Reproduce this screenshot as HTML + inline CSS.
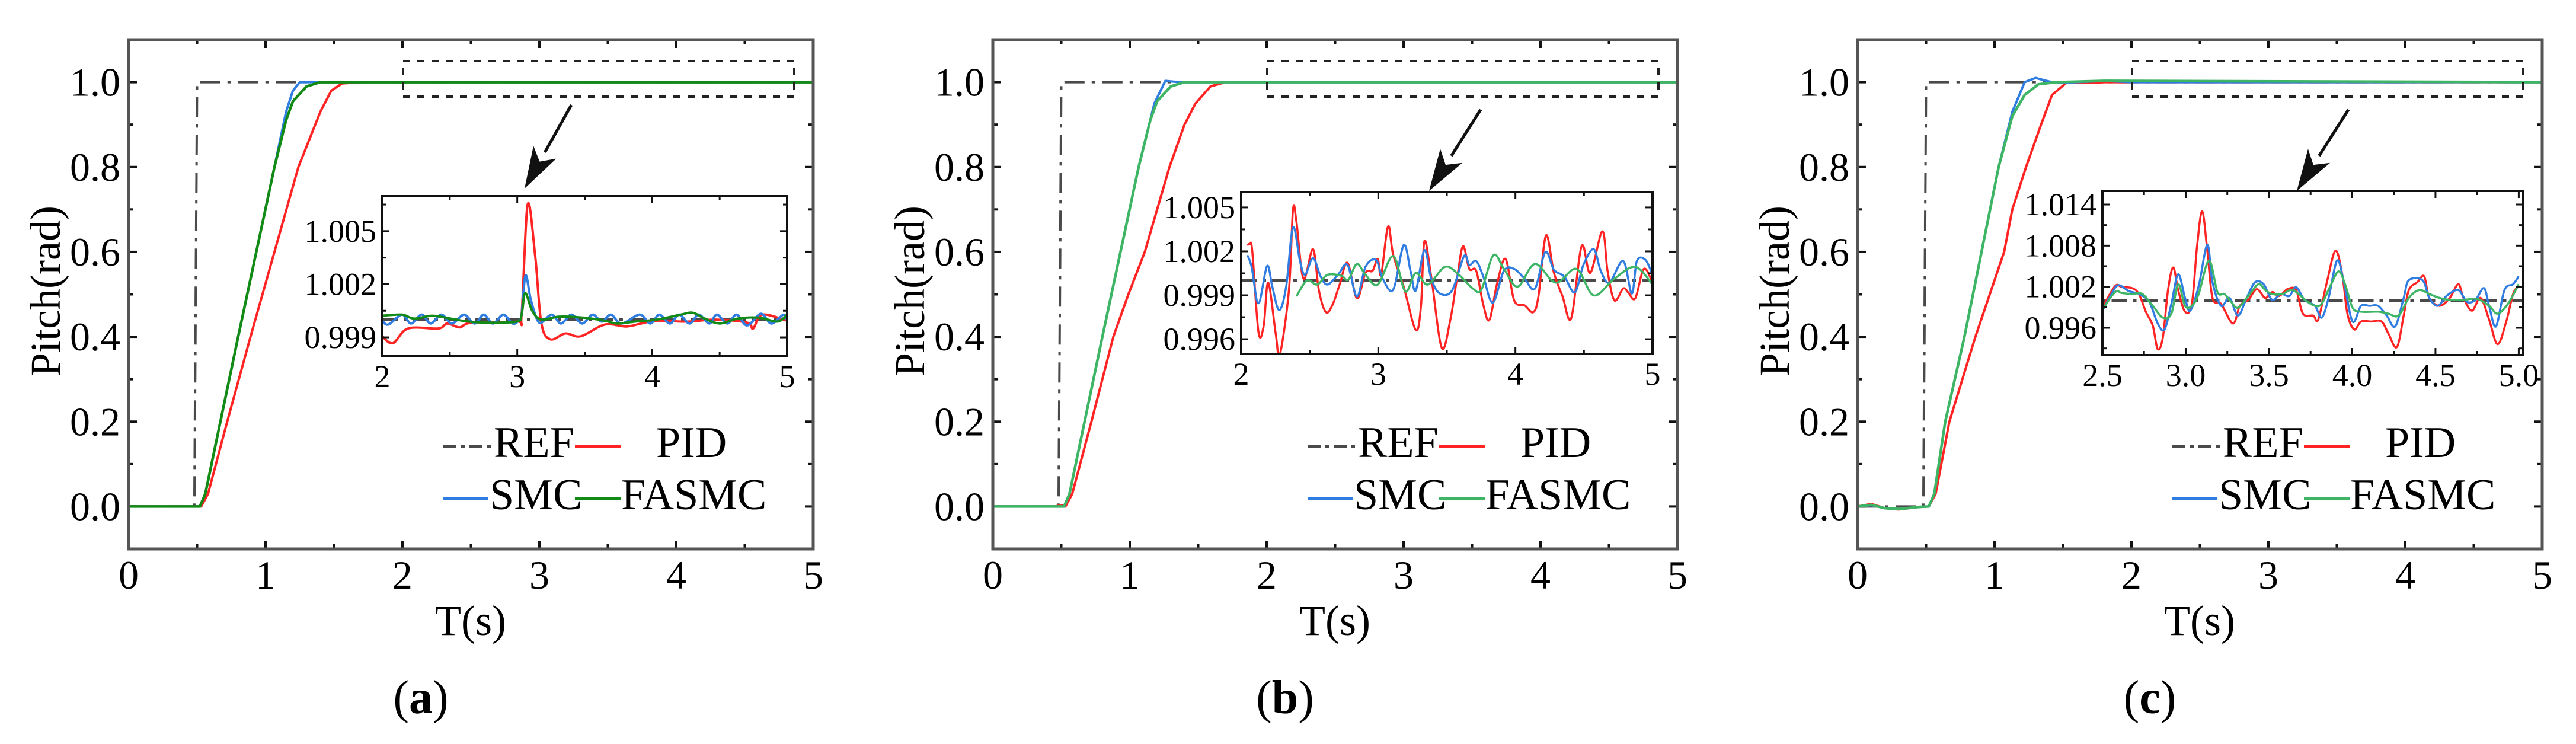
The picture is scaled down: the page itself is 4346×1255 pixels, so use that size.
<!DOCTYPE html>
<html><head><meta charset="utf-8"><style>
html,body{margin:0;padding:0;background:#fff;}
svg{display:block;font-family:"Liberation Serif","DejaVu Serif",serif;}
text{font-family:"Liberation Serif","DejaVu Serif",serif;}
</style></head><body>
<svg id="fig" width="4346" height="1255" viewBox="0 0 4346 1255" xmlns="http://www.w3.org/2000/svg" font-family="Liberation Serif, DejaVu Serif, serif"></svg>
<script>
// ===== Main chart data (t in s, pitch in rad) =====
const refT = [0, 0.48, 0.50, 5];
const refV = [0, 0, 1, 1];
const aSmcT = [0,0.52,0.56,0.67,0.80,1.065,1.15,1.2,1.25,5];
const aSmcV = [0,0,0.03,0.2,0.4,0.8,0.93,0.98,1.0,1.0];
const aFasT = [0,0.52,0.56,0.67,0.80,1.065,1.15,1.2,1.3,1.4,5];
const aFasV = [0,0,0.03,0.2,0.4,0.8,0.91,0.955,0.99,1.0,1.0];
const aPidT = [0,0.53,0.58,0.72,0.89,1.24,1.40,1.48,1.56,1.7,5];
const aPidV = [0,0,0.03,0.2,0.4,0.8,0.93,0.98,0.997,1.0,1.0];
const bSmcT = [0,0.52,0.56,0.67,0.80,1.065,1.18,1.26,1.3,1.36,5];
const bSmcV = [0,0,0.03,0.2,0.4,0.8,0.95,1.003,1.002,1.0,1.0];
const bFasT = [0,0.52,0.56,0.67,0.80,1.065,1.15,1.2,1.3,1.4,5];
const bFasV = [0,0,0.03,0.2,0.4,0.8,0.91,0.955,0.99,1.0,1.0];
const bPidT = [0,0.45,0.5,0.53,0.58,0.72,0.88,0.99,1.11,1.29,1.40,1.48,1.59,1.7,5];
const bPidV = [0,0,0.003,0,0.03,0.2,0.4,0.5,0.6,0.8,0.9,0.95,0.99,1.0,1.0];
const cSmcT = [0,0.1,0.2,0.3,0.45,0.52,0.56,0.64,0.78,1.03,1.13,1.22,1.3,1.38,1.45,1.6,1.8,2.0,5];
const cSmcV = [0,0.003,-0.004,-0.006,-0.001,0,0.03,0.2,0.4,0.8,0.93,1.0,1.01,1.003,0.998,1.0,1.003,1.0,1.0];
const cFasT = [0,0.1,0.2,0.3,0.45,0.52,0.56,0.64,0.78,1.03,1.13,1.22,1.32,1.45,1.8,5];
const cFasV = [0,0.004,-0.004,-0.006,-0.001,0,0.03,0.2,0.4,0.8,0.92,0.97,0.995,1.0,1.003,1.0];
const cPidT = [0,0.1,0.2,0.3,0.45,0.52,0.57,0.67,0.86,1.07,1.13,1.23,1.34,1.42,1.53,1.7,1.8,5];
const cPidV = [0,0.006,-0.004,-0.007,-0.001,0,0.03,0.2,0.4,0.6,0.7,0.8,0.9,0.97,1.0,0.998,1.0,1.0];

// ===== Inset data =====
const insRefT = [2, 5.05];
const insRefV = [1, 1];
const aiPidT = [2.0,2.079,2.191,2.415,2.482,2.572,2.662,2.998,3.032,3.077,3.133,3.178,3.245,3.357,3.470,3.649,3.806,3.918,4.031,4.255,4.479,4.704,4.748,4.816,5.0];
const aiPidV = [0.99906,0.99867,0.9995,0.9995,0.99978,0.99956,0.99983,0.99989,1.00028,1.0065,1.00361,0.99983,0.99889,0.99922,0.99906,0.99972,0.99961,0.99978,0.99994,0.99989,1.0,0.99983,0.9995,1.00028,0.99994];
const aiSmcT = [2.0,2.045,2.146,2.213,2.292,2.359,2.438,2.516,2.606,2.684,2.752,2.819,2.897,2.965,3.010,3.032,3.061,3.099,3.144,3.178,3.256,3.324,3.402,3.481,3.559,3.627,3.694,3.773,3.907,3.986,4.053,4.131,4.199,4.277,4.345,4.423,4.479,4.558,4.625,4.704,4.805,4.883,4.973,5.0];
const aiSmcV = [0.99994,0.99972,1.00028,0.99978,1.00028,0.99978,1.00028,0.99978,1.00028,0.99978,1.00028,0.99978,1.00028,0.99978,0.99994,1.00028,1.0025,1.00117,1.00006,0.99983,1.00028,0.99978,1.00028,0.99978,1.00028,0.99989,1.00028,0.99978,1.00028,0.99978,1.00028,0.99978,1.00028,0.99978,1.00028,0.99978,1.00028,0.99978,1.00028,0.99967,1.00033,0.99978,1.00028,0.99994];
const aiFasT = [2.0,2.146,2.236,2.370,2.505,2.639,2.797,2.998,3.032,3.059,3.111,3.178,3.313,3.492,3.649,3.739,3.873,4.031,4.210,4.300,4.390,4.502,4.636,4.793,4.928,5.0];
const aiFasV = [1.00022,1.00028,1.00006,1.00022,1.00006,0.99989,0.99983,0.99989,1.00028,1.0015,1.0005,1.0,1.00017,1.00011,0.99994,0.99978,0.99989,1.0,1.00028,1.00039,1.00006,0.99978,1.00006,1.00011,0.99989,1.00028];

const biPidT = [2.045,2.063,2.081,2.126,2.164,2.197,2.252,2.282,2.348,2.378,2.403,2.454,2.524,2.567,2.618,2.668,2.718,2.776,2.844,2.907,2.958,2.996,3.021,3.071,3.109,3.185,3.273,3.311,3.336,3.386,3.462,3.525,3.576,3.618,3.664,3.714,3.765,3.810,3.865,3.928,3.991,4.067,4.130,4.168,4.223,4.281,4.344,4.407,4.483,4.546,4.634,4.672,4.722,4.786,4.823,4.874,4.937,5.0];
const biPidV = [1.00242,1.00248,1.00201,0.9965,0.9969,0.99986,0.99636,0.99495,0.99932,1.00484,1.00403,1.00013,1.00215,0.99932,0.99784,0.99838,0.99973,1.00121,0.99879,1.00053,1.00067,1.00148,1.0004,1.0037,1.00175,0.99959,0.99663,0.99825,1.00269,1.00027,0.99542,0.99731,1.00027,1.00235,1.0008,1.00067,0.99838,0.99731,0.99973,1.00148,0.99865,0.99831,0.99784,0.99892,1.00309,1.00053,0.99892,0.99744,1.00235,1.00053,1.00336,1.00067,0.99865,0.99946,0.99919,0.99879,1.0008,0.99986];
const biSmcT = [2.045,2.076,2.126,2.189,2.227,2.277,2.328,2.378,2.429,2.466,2.524,2.580,2.630,2.706,2.776,2.844,2.907,2.983,3.034,3.109,3.185,3.235,3.273,3.336,3.386,3.449,3.538,3.626,3.664,3.714,3.765,3.835,3.916,3.991,4.067,4.143,4.218,4.281,4.357,4.433,4.496,4.571,4.622,4.685,4.786,4.849,4.886,4.949,5.0];
const biSmcV = [1.00174,1.00094,0.99845,1.001,0.99959,0.99798,0.99959,1.00363,1.00134,1.00040,1.00154,1.00027,0.99973,1.0004,1.00107,0.99892,1.00094,1.00141,1.0001,0.99939,1.00242,1.00067,0.99932,1.00208,1.00013,0.99912,0.99933,1.00168,1.00107,1.00134,1.0003,0.99849,1.00067,1.0008,1.00013,0.99946,1.00195,1.00074,1.00027,0.99919,1.00107,1.00215,1.00067,0.99986,1.00134,0.99912,1.00134,1.00141,1.0004];
const biFasT = [2.403,2.479,2.555,2.630,2.731,2.781,2.844,2.907,2.996,3.109,3.197,3.273,3.361,3.487,3.588,3.689,3.752,3.840,3.916,4.017,4.143,4.294,4.445,4.571,4.722,4.874,5.0];
const biFasV = [0.99892,1.00000,0.99973,1.0004,1.00033,1.00006,1.00114,1.0004,0.99973,1.00168,0.99926,1.00053,0.99973,1.00094,1.0004,0.99946,0.99939,1.00174,1.0008,0.99959,1.00114,0.99986,1.0008,0.99899,1.00013,1.00094,0.99973];

const ciPidT = [2.5,2.576,2.617,2.678,2.719,2.761,2.802,2.832,2.863,2.894,2.925,2.955,2.996,3.037,3.068,3.099,3.130,3.161,3.212,3.284,3.325,3.376,3.427,3.478,3.519,3.561,3.612,3.663,3.704,3.766,3.796,3.848,3.899,3.940,3.971,4.012,4.053,4.114,4.176,4.217,4.268,4.309,4.340,4.391,4.432,4.463,4.525,4.586,4.637,4.668,4.719,4.771,4.822,4.873,4.925,4.966,5.0];
const ciPidV = [0.99893,1.00209,1.00194,1.0018,1.00094,0.99835,0.99634,0.9929,0.99462,1.00151,1.00481,1.00151,0.99835,0.9995,1.00783,1.013,1.00725,1.00036,0.9995,0.99663,0.99921,1.00008,1.00165,1.00036,1.00122,1.00065,1.00165,1.00151,0.99807,0.99778,0.9972,1.00266,1.00725,1.00381,0.99807,0.99577,0.99692,0.99692,0.99692,0.99519,0.99319,0.99778,1.00151,1.00266,1.00352,1.00036,0.99921,1.00036,1.00237,1.00036,0.9985,1.00036,0.99720,0.99362,0.99692,1.00094,1.00209];
const ciSmcT = [2.5,2.555,2.596,2.658,2.719,2.781,2.832,2.873,2.914,2.955,2.996,3.027,3.078,3.130,3.161,3.212,3.263,3.314,3.366,3.417,3.468,3.519,3.571,3.622,3.663,3.714,3.776,3.817,3.858,3.909,3.950,4.002,4.053,4.104,4.155,4.207,4.258,4.309,4.340,4.422,4.463,4.514,4.566,4.637,4.689,4.740,4.791,4.822,4.863,4.914,4.966,5.0];
const ciSmcV = [0.9985,1.00094,1.00223,1.00137,1.00094,0.99979,0.99663,0.99577,0.99950,1.00381,1.00036,0.9985,1.00209,1.00811,1.00266,0.99921,1.00036,0.99778,1.00036,1.00266,1.00237,1.00008,1.00094,1.00065,1.00194,1.00008,0.99921,0.99749,1.00036,1.00582,1.00266,0.99692,0.99921,0.99921,0.99921,0.99778,0.9962,1.00036,1.00295,1.00295,1.00036,0.99921,1.00065,1.00151,0.99979,1.00008,1.0018,0.99921,0.9962,1.00151,1.00237,1.00352];
const ciFasT = [2.5,2.576,2.617,2.678,2.740,2.802,2.863,2.914,2.955,2.996,3.037,3.078,3.140,3.191,3.232,3.273,3.314,3.376,3.437,3.478,3.519,3.581,3.643,3.725,3.776,3.817,3.868,3.919,3.961,4.002,4.053,4.155,4.217,4.278,4.340,4.402,4.463,4.525,4.586,4.668,4.750,4.822,4.873,4.935,5.0];
const ciFasV = [0.99864,1.00122,1.00108,1.00094,1.00094,0.99921,0.99749,0.99807,1.00237,0.99921,0.99921,1.00094,1.00582,1.00122,1.00094,0.99979,0.99893,1.00065,1.00237,1.00151,1.00094,1.00094,1.00151,0.99993,0.99921,0.9995,1.00208,1.00424,1.00208,0.99893,0.99835,0.99835,0.99807,0.99778,1.00036,1.00151,1.00094,1.00036,1.00008,1.00008,1.00022,0.99921,0.99807,0.99950,1.00237];

const mainXTicks = [0,1,2,3,4,5];
const mainYTicks = [0.0,0.2,0.4,0.6,0.8,1.0];
const mainYLabels = ["0.0","0.2","0.4","0.6","0.8","1.0"];
const aInsYTicks = [0.999,1.002,1.005];
const bInsYTicks = [0.996,0.999,1.002,1.005];
const cInsYTicks = [0.996,1.002,1.008,1.014];
const abInsXTicks = [2,3,4,5];
const cInsXTicks = [2.5,3.0,3.5,4.0,4.5,5.0];
const cInsXLabels = ["2.5","3.0","3.5","4.0","4.5","5.0"];
const captions = ["a","b","c"];
const legendNames = ["REF","PID","SMC","FASMC"];

const NS = "http://www.w3.org/2000/svg";
const FONT = "Liberation Serif, DejaVu Serif, serif";
const svg = document.getElementById("fig");
function mk(tag, attrs, parent){
  const e = document.createElementNS(NS, tag);
  for (const k in attrs) e.setAttribute(k, attrs[k]);
  if (tag === "text") e.setAttribute("font-family", FONT);
  (parent||svg).appendChild(e);
  return e;
}
const RED="#ff2424", BLUE="#2f7de1", GREENA="#128a16", GREENB="#3db565", REFC="#4a4a4a";

const panels = [
  {ox:0, smc:[aSmcT,aSmcV], fas:[aFasT,aFasV], pid:[aPidT,aPidV], green:GREENA,
   ins:{l:645,r:1328,t:331,b:601,x0:2,x1:5,y0:0.99793,y1:1.00697,yt:aInsYTicks,ylab:["0.999","1.002","1.005"],xt:abInsXTicks,xlab:["2","3","4","5"],xminor:0.5,yminor:0.0015,lw:4,
     pid:[aiPidT,aiPidV], smc:[aiSmcT,aiSmcV], fas:[aiFasT,aiFasV]}, tip:[885,318], tail:[964,177]},
  {ox:1458, smc:[bSmcT,bSmcV], fas:[bFasT,bFasV], pid:[bPidT,bPidV], green:GREENB,
   ins:{l:636,r:1330,t:324,b:597,x0:2,x1:5,y0:0.99499,y1:1.00605,yt:bInsYTicks,ylab:["0.996","0.999","1.002","1.005"],xt:abInsXTicks,xlab:["2","3","4","5"],xminor:0.5,yminor:0.0015,lw:3.5,
     pid:[biPidT,biPidV], smc:[biSmcT,biSmcV], fas:[biFasT,biFasV]}, tip:[953,322], tail:[1040,185]},
  {ox:2917, smc:[cSmcT,cSmcV], fas:[cFasT,cFasV], pid:[cPidT,cPidV], green:GREENB,
   ins:{l:630,r:1340,t:322,b:599,x0:2.5,x1:5.027,y0:0.99202,y1:1.01599,yt:cInsYTicks,ylab:["0.996","1.002","1.008","1.014"],xt:cInsXTicks,xlab:cInsXLabels,xminor:0.25,yminor:0.003,lw:3.5,
     pid:[ciPidT,ciPidV], smc:[ciSmcT,ciSmcV], fas:[ciFasT,ciFasV]}, tip:[958,322], tail:[1045,185]}
];

function pathFrom(T, V, fx, fy){
  let d="";
  for (let i=0;i<T.length;i++) d += (i?"L":"M")+fx(T[i]).toFixed(1)+","+fy(V[i]).toFixed(1);
  return d;
}
function smoothFrom(T, V, fx, fy){
  const P = T.map((t,i)=>[fx(t), fy(V[i])]);
  let d = "M"+P[0][0].toFixed(1)+","+P[0][1].toFixed(1);
  for (let i=0;i<P.length-1;i++){
    const p0=P[Math.max(i-1,0)], p1=P[i], p2=P[i+1], p3=P[Math.min(i+2,P.length-1)];
    const c1=[p1[0]+(p2[0]-p0[0])/6, p1[1]+(p2[1]-p0[1])/6];
    const c2=[p2[0]-(p3[0]-p1[0])/6, p2[1]-(p3[1]-p1[1])/6];
    d += "C"+c1[0].toFixed(1)+","+c1[1].toFixed(1)+" "+c2[0].toFixed(1)+","+c2[1].toFixed(1)+" "+p2[0].toFixed(1)+","+p2[1].toFixed(1);
  }
  return d;
}

panels.forEach((p, pi) => {
  const g = mk("g", {transform:`translate(${p.ox},0)`});
  
  
  const L=217, R=1372, T=67, B=926;
  const fx = t => L + (t-0)/(5-0)*(R-L);
  const fy = v => B - (v-(-0.1))/(1.2)*(B-T);
  const cid = "clipMain"+pi;
  const cp = mk("clipPath",{id:cid},g); mk("rect",{x:L,y:T,width:R-L,height:B-T},cp);

  const tg = mk("g",{stroke:"#111","stroke-width":4},g);
  
  
  for (let t=0;t<=5.001;t+=0.5){
    const len = Math.abs(t-Math.round(t))<1e-6 ? 14 : 8;
    mk("line",{x1:fx(t),x2:fx(t),y1:B,y2:B-len},tg);
    mk("line",{x1:fx(t),x2:fx(t),y1:T,y2:T+len},tg);
  }
  for (let k=-1;k<=11;k++){
    const v=k/10, len = k%2===0 ? 14 : 8;
    mk("line",{x1:L,x2:L+len,y1:fy(v),y2:fy(v)},tg);
    mk("line",{x1:R,x2:R-len,y1:fy(v),y2:fy(v)},tg);
  }
  mainXTicks.forEach(t=>{
    const e=mk("text",{x:fx(t),y:970,"font-size":68,"text-anchor":"middle","dominant-baseline":"central",fill:"#000"},g);
    e.textContent=String(t);
    
    
  });
  mainYTicks.forEach((v,i)=>{
    const e=mk("text",{x:203,y:fy(v),"font-size":68,"text-anchor":"end","dominant-baseline":"central",fill:"#000"},g);
    e.textContent=mainYLabels[i];
    
    
  });
  const xt=mk("text",{x:794,y:1047,"font-size":72,"text-anchor":"middle","dominant-baseline":"central",fill:"#000"},g);
  xt.textContent="T(s)";
  
  
  const yt=mk("text",{x:0,y:0,"font-size":72,"text-anchor":"middle","dominant-baseline":"central",fill:"#000",transform:"translate(77,491) rotate(-90)"},g);
  yt.textContent="Pitch(rad)";
  
  
  const cap=mk("text",{x:710,y:1177,"font-size":80,"text-anchor":"middle","dominant-baseline":"central",fill:"#000"},g);
  cap.innerHTML='(<tspan font-weight="bold">'+captions[pi]+'</tspan>)';
  
  

  const sg = mk("g",{"clip-path":`url(#${cid})`,fill:"none","stroke-linejoin":"round"},g);
  const s1=mk("path",{d:pathFrom(refT,refV,fx,fy),stroke:REFC,"stroke-width":4,"stroke-dasharray":"34,12,6,12"},sg);
  
  
  const s2=mk("path",{d:pathFrom(p.pid[0],p.pid[1],fx,fy),stroke:RED,"stroke-width":4},sg);
  
  
  const s3=mk("path",{d:pathFrom(p.smc[0],p.smc[1],fx,fy),stroke:BLUE,"stroke-width":4},sg);
  
  
  const s4=mk("path",{d:pathFrom(p.fas[0],p.fas[1],fx,fy),stroke:p.green,"stroke-width":4.5},sg);
  
  

  const fr=mk("rect",{x:L,y:T,width:R-L,height:B-T,fill:"none",stroke:"#555","stroke-width":5},g);
  
  

  const zb=mk("rect",{x:680,y:103,width:660,height:60,fill:"none",stroke:"#222","stroke-width":4,"stroke-dasharray":"12,12"},g);
  
  
  const [tx,ty]=p.tip, [sx,sy]=p.tail;
  const dx=tx-sx, dy=ty-sy, len=Math.hypot(dx,dy), ux=dx/len, uy=dy/len;
  const bx=tx-ux*70, by=ty-uy*70, nx=-uy, ny=ux;
  const ag=mk("g",{},g);
  
  
  mk("line",{x1:sx,y1:sy,x2:bx,y2:by,stroke:"#111","stroke-width":5},ag);
  mk("polygon",{points:`${tx},${ty} ${bx+nx*22},${by+ny*22} ${bx+ux*18},${by+uy*18} ${bx-nx*22},${by-ny*22}`,fill:"#111"},ag);

  const I=p.ins;
  const ix = t => I.l + (t-I.x0)/(I.x1-I.x0)*(I.r-I.l);
  const iy = v => I.b - (v-I.y0)/(I.y1-I.y0)*(I.b-I.t);
  const ig = mk("g",{},g);
  
  
  mk("rect",{x:I.l,y:I.t,width:I.r-I.l,height:I.b-I.t,fill:"#fff"},ig);
  const icid="clipIns"+pi;
  const icp=mk("clipPath",{id:icid},ig); mk("rect",{x:I.l,y:I.t,width:I.r-I.l,height:I.b-I.t},icp);
  const isg=mk("g",{"clip-path":`url(#${icid})`,fill:"none","stroke-linejoin":"round"},ig);
  const i1=mk("path",{d:pathFrom(insRefT,insRefV,ix,iy),stroke:REFC,"stroke-width":5,"stroke-dasharray":"26,10,6,10"},isg);
  
  
  const i2=mk("path",{d:smoothFrom(I.pid[0],I.pid[1],ix,iy),stroke:RED,"stroke-width":I.lw},isg);
  
  
  const i3=mk("path",{d:smoothFrom(I.smc[0],I.smc[1],ix,iy),stroke:BLUE,"stroke-width":I.lw},isg);
  
  
  const i4=mk("path",{d:smoothFrom(I.fas[0],I.fas[1],ix,iy),stroke:p.green,"stroke-width":I.lw},isg);
  
  
  const itg=mk("g",{stroke:"#111","stroke-width":3},ig);
  for (let t=I.xt[0]; t<=I.x1+1e-6; t+=I.xminor){
    const major = I.xt.some(m=>Math.abs(m-t)<1e-6), l2 = major?12:7;
    mk("line",{x1:ix(t),x2:ix(t),y1:I.b,y2:I.b-l2},itg);
    mk("line",{x1:ix(t),x2:ix(t),y1:I.t,y2:I.t+l2},itg);
  }
  for (let v=I.yt[0]-I.yminor; v<=I.y1; v+=I.yminor){
    if (v<I.y0) continue;
    const major = I.yt.some(m=>Math.abs(m-v)<1e-7), l2 = major?12:7;
    mk("line",{x1:I.l,x2:I.l+l2,y1:iy(v),y2:iy(v)},itg);
    mk("line",{x1:I.r,x2:I.r-l2,y1:iy(v),y2:iy(v)},itg);
  }
  mk("rect",{x:I.l,y:I.t,width:I.r-I.l,height:I.b-I.t,fill:"none",stroke:"#111","stroke-width":4},ig);
  I.yt.forEach((v,i)=>{
    const e=mk("text",{x:I.l-10,y:iy(v),"font-size":54,"text-anchor":"end","dominant-baseline":"central",fill:"#000"},ig);
    e.textContent=I.ylab[i];
    
    
  });
  I.xt.forEach((t,i)=>{
    const e=mk("text",{x:ix(t),y:I.b+34,"font-size":54,"text-anchor":"middle","dominant-baseline":"central",fill:"#000"},ig);
    e.textContent=I.xlab[i];
    
    
  });

  const lg=mk("g",{},g);
  
  
  const items=[
    {x1:748,x2:828,y:753,tx:833,c:REFC,dash:"22,8,6,8",n:legendNames[0]},
    {x1:970,x2:1048,y:753,tx:1107,c:RED,dash:null,n:legendNames[1]},
    {x1:748,x2:824,y:841,tx:826,c:BLUE,dash:null,n:legendNames[2]},
    {x1:970,x2:1048,y:841,tx:1048,c:p.green,dash:null,n:legendNames[3]}
  ];
  items.forEach(it=>{
    const eg=mk("g",{},lg);
    
    
    const a={x1:it.x1,x2:it.x2,y1:it.y,y2:it.y,stroke:it.c,"stroke-width":5};
    if (it.dash) a["stroke-dasharray"]=it.dash;
    mk("line",a,eg);
    const e=mk("text",{x:it.tx,y:it.y-6,"font-size":74,"dominant-baseline":"central",fill:"#000"},eg);
    e.textContent=it.n;
  });
});
</script>
</body></html>
